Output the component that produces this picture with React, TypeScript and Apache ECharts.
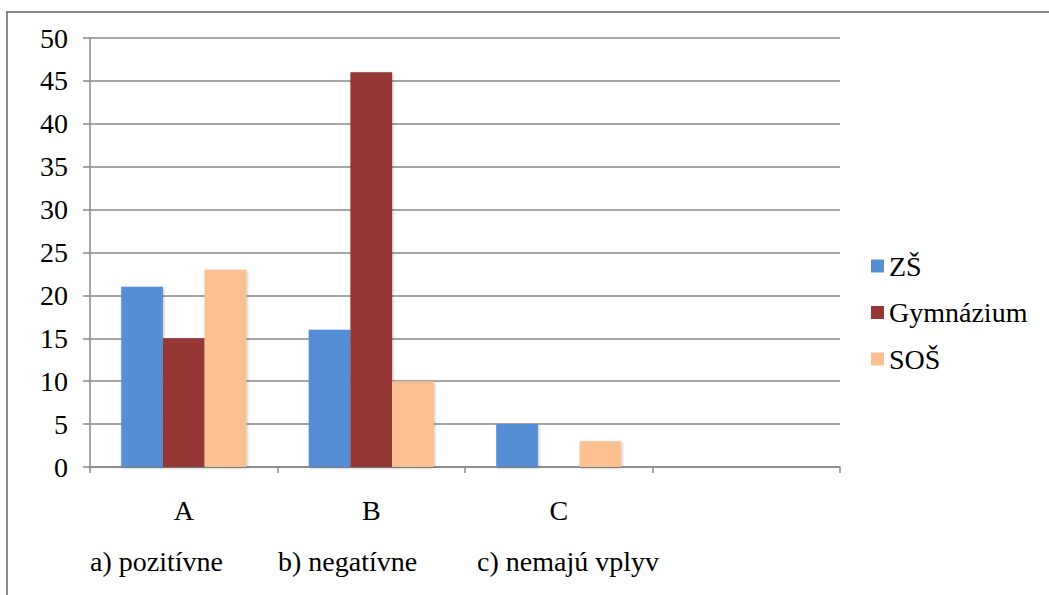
import React, { useEffect, useRef } from "react";
import * as echarts from "echarts";

const categories = ["A", "B", "C", ""];
const seriesNames = ["ZŠ", "Gymnázium", "SOŠ"];
const zsValues = [21, 16, 5, null];
const gymValues = [15, 46, 0, null];
const sosValues = [23, 10, 3, null];
const colors = ["#558ED5", "#953735", "#FAC090"];
const descriptions = ["a) pozitívne", "b) negatívne", "c) nemajú vplyv"];
const descriptionX = [90, 278, 477];
const yTicks = { min: 0, max: 50, interval: 5 };

const FONT = "Liberation Serif";
const FS = 28;

function buildOption() {
  const values = [zsValues, gymValues, sosValues];
  return {
    animation: false,
    textStyle: { fontFamily: FONT, fontSize: FS },
    grid: { left: 90, right: 209, top: 38, bottom: 128 },
    legend: {
      orient: "vertical",
      left: 866,
      top: 247,
      itemWidth: 13,
      itemHeight: 13,
      itemGap: 18.5,
      icon: "rect",
      textStyle: { fontSize: FS, fontFamily: FONT, color: "#000" },
      data: seriesNames,
    },
    xAxis: {
      type: "category",
      data: categories,
      boundaryGap: true,
      axisLine: { show: true, lineStyle: { color: "#888", width: 1.5 } },
      axisTick: { show: true, length: 6, lineStyle: { color: "#888", width: 1.5 } },
      axisLabel: { margin: 29, fontSize: FS, fontFamily: FONT, color: "#000" },
    },
    yAxis: {
      type: "value",
      min: yTicks.min,
      max: yTicks.max,
      interval: yTicks.interval,
      axisLine: { show: true, lineStyle: { color: "#888", width: 1.5 } },
      axisTick: { show: true, length: 7, lineStyle: { color: "#888", width: 1.5 } },
      axisLabel: { margin: 22, fontSize: FS, fontFamily: FONT, color: "#000" },
      splitLine: { show: true, lineStyle: { color: "#888", width: 1.5 } },
    },
    series: seriesNames.map((name, i) => ({
      name,
      type: "bar",
      data: values[i],
      barGap: "0%",
      barCategoryGap: "33.3%",
      itemStyle: {
        color: colors[i],
        shadowBlur: 3,
        shadowColor: "rgba(0,0,0,0.25)",
        shadowOffsetX: 1,
        shadowOffsetY: 1,
      },
    })),
    graphic: [
      {
        type: "rect",
        silent: true,
        shape: { x: 7, y: 12, width: 1200, height: 800 },
        style: { fill: "none", stroke: "#888", lineWidth: 2 },
      },
      ...descriptions.map((d, i) => ({
        type: "text",
        left: descriptionX[i],
        top: 547,
        style: { text: d, fontSize: FS, fontFamily: FONT, fill: "#000" },
      })),
    ],
  };
}

export default function App() {
  const ref = useRef<HTMLDivElement>(null);
  useEffect(() => {
    const chart = echarts.init(ref.current!, null, { renderer: "svg" });
    chart.setOption(buildOption());
    let alive = true;
    const fonts = (document as any).fonts;
    if (fonts && fonts.load) {
      fonts
        .load(FS + 'px "' + FONT + '"')
        .then(() => {
          if (alive) chart.setOption(buildOption(), { notMerge: true });
        })
        .catch(() => {});
    }
    return () => {
      alive = false;
      chart.dispose();
    };
  }, []);
  return (
    <div style={{ position: "absolute", left: 0, top: 0 }}>
      <span style={{ position: "absolute", left: 0, top: 0, fontFamily: FONT, fontSize: FS, color: "transparent" }}>
        {"\u00a0"}
      </span>
      <div ref={ref} style={{ width: 1049, height: 595 }} />
    </div>
  );
}
